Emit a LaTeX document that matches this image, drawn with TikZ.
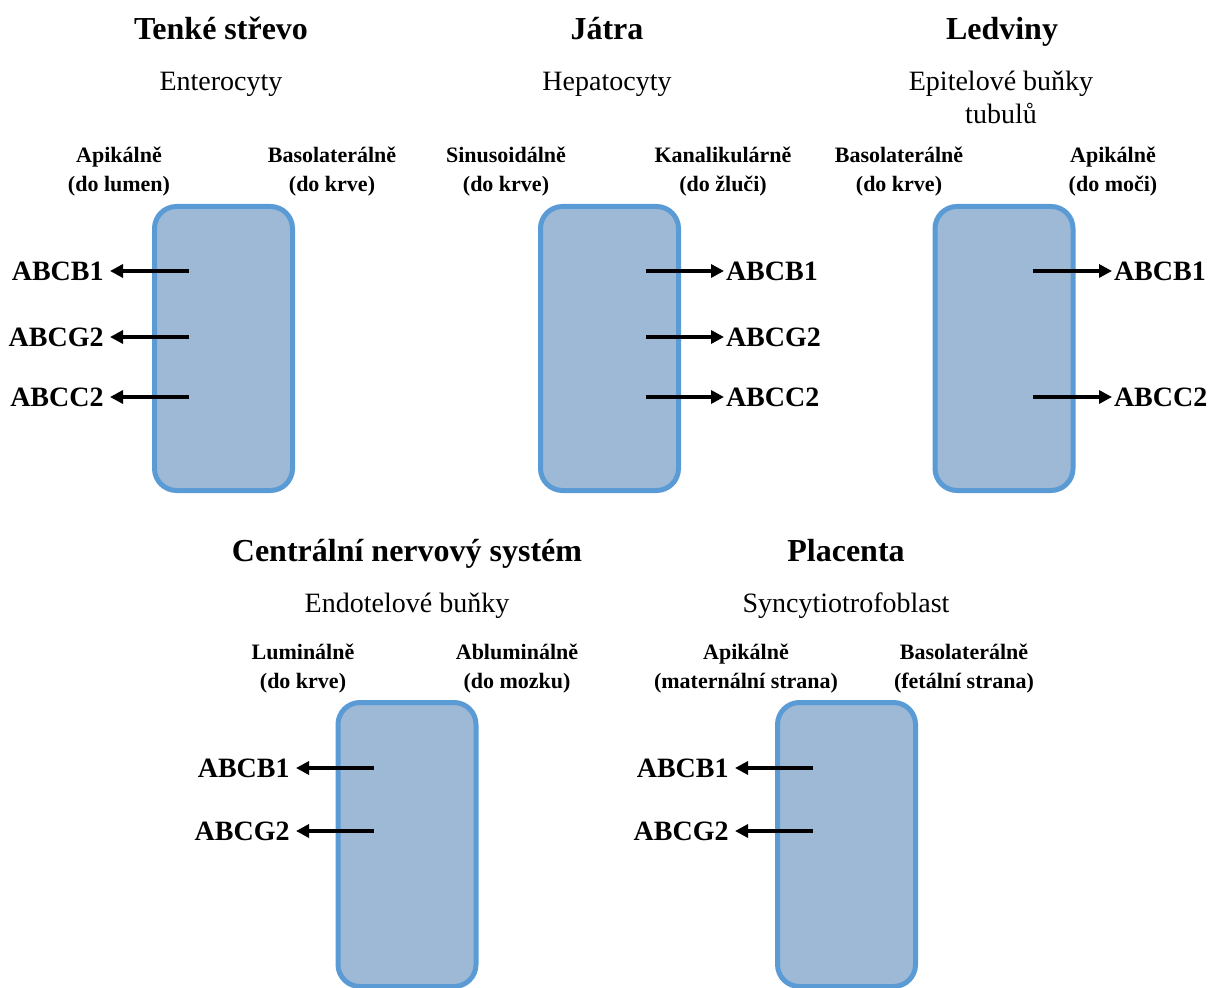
\documentclass[tikz,border=0pt]{standalone}
\usepackage{fontspec}
\setmainfont{Liberation Serif}
\usetikzlibrary{arrows.meta}
\definecolor{cellFill}{RGB}{157, 185, 214}
\definecolor{cellBorder}{RGB}{91, 155, 213}

\begin{document}
\begin{tikzpicture}[x=0.5pt, y=-0.5pt,
    cell/.style={draw=cellBorder, fill=cellFill, line width=2.5pt, rounded corners=11pt,
      minimum width=69pt, minimum height=142pt, inner sep=0pt},
    organTitle/.style={anchor=base, font=\bfseries\fontsize{16}{19}\selectfont},
    cellTitle/.style={anchor=base, align=center, font=\fontsize{14}{16.5}\selectfont},
    sideLabel/.style={anchor=base, align=center, font=\bfseries\fontsize{11}{14.5}\selectfont},
    gene/.style={font=\bfseries\fontsize{14}{16}\selectfont, inner sep=0.8pt},
    geneLeft/.style={gene, anchor=east, inner xsep=3pt},
    geneRight/.style={gene, anchor=west},
    efflux/.style={line width=2pt, -{Triangle[length=6.5pt, width=6.5pt]}}]
  \useasboundingbox (0,0) rectangle (1208,988);

  \node[cell] (strevo) at (223.5,348.5) {};
  \node[cell] (jatra) at (609.5,348.5) {};
  \node[cell] (ledviny) at (1004,348.5) {};
  \node[cell] (cns) at (407,844.5) {};
  \node[cell] (placenta) at (846.5,844.5) {};

  \node[organTitle] (tStrevo) at (221,40) {Tenké střevo};
  \node[organTitle] (tJatra) at (607,40) {Játra};
  \node[organTitle] (tLedviny) at (1002,40) {Ledviny};
  \node[organTitle] (tCns) at (407,561) {Centrální nervový systém};
  \node[organTitle] (tPlacenta) at (846,561) {Placenta};

  \node[cellTitle] (cStrevo) at (221,91) {Enterocyty};
  \node[cellTitle] (cJatra) at (607,91) {Hepatocyty};
  \node[cellTitle] (cLedviny) at (1001,124) {Epitelové buňky\\tubulů};
  \node[cellTitle] (cCns) at (407,612) {Endotelové buňky};
  \node[cellTitle] (cPlacenta) at (846,612) {Syncytiotrofoblast};

  \node[sideLabel] (lStrevo) at (119,192) {Apikálně\\(do lumen)};
  \node[sideLabel] (rStrevo) at (332,192) {Basolaterálně\\(do krve)};
  \node[sideLabel] (lJatra) at (506,192) {Sinusoidálně\\(do krve)};
  \node[sideLabel] (rJatra) at (723,192) {Kanalikulárně\\(do žluči)};
  \node[sideLabel] (lLedviny) at (899,192) {Basolaterálně\\(do krve)};
  \node[sideLabel] (rLedviny) at (1113,192) {Apikálně\\(do moči)};
  \node[sideLabel] (lCns) at (303,688) {Luminálně\\(do krve)};
  \node[sideLabel] (rCns) at (517,688) {Abluminálně\\(do mozku)};
  \node[sideLabel] (lPlacenta) at (746,688) {Apikálně\\(maternální strana)};
  \node[sideLabel] (rPlacenta) at (964,688) {Basolaterálně\\(fetální strana)};

  \coordinate (sB1) at (189,271);
  \coordinate (sG2) at (189,337);
  \coordinate (sC2) at (189,397);
  \node[geneLeft] (gsB1) at (110,271) {ABCB1};
  \node[geneLeft] (gsG2) at (110,337) {ABCG2};
  \node[geneLeft] (gsC2) at (110,397) {ABCC2};
  \draw[efflux] (sB1) -- (gsB1);
  \draw[efflux] (sG2) -- (gsG2);
  \draw[efflux] (sC2) -- (gsC2);

  \coordinate (jB1) at (646,271);
  \coordinate (jG2) at (646,337);
  \coordinate (jC2) at (646,397);
  \node[geneRight] (gjB1) at (724,271) {ABCB1};
  \node[geneRight] (gjG2) at (724,337) {ABCG2};
  \node[geneRight] (gjC2) at (724,397) {ABCC2};
  \draw[efflux] (jB1) -- (gjB1);
  \draw[efflux] (jG2) -- (gjG2);
  \draw[efflux] (jC2) -- (gjC2);

  \coordinate (lB1) at (1033,271);
  \coordinate (lC2) at (1033,397);
  \node[geneRight] (glB1) at (1112,271) {ABCB1};
  \node[geneRight] (glC2) at (1112,397) {ABCC2};
  \draw[efflux] (lB1) -- (glB1);
  \draw[efflux] (lC2) -- (glC2);

  \coordinate (nB1) at (374,768);
  \coordinate (nG2) at (374,831);
  \node[geneLeft] (gnB1) at (296,768) {ABCB1};
  \node[geneLeft] (gnG2) at (296,831) {ABCG2};
  \draw[efflux] (nB1) -- (gnB1);
  \draw[efflux] (nG2) -- (gnG2);

  \coordinate (pB1) at (813,768);
  \coordinate (pG2) at (813,831);
  \node[geneLeft] (gpB1) at (735,768) {ABCB1};
  \node[geneLeft] (gpG2) at (735,831) {ABCG2};
  \draw[efflux] (pB1) -- (gpB1);
  \draw[efflux] (pG2) -- (gpG2);
\end{tikzpicture}
\end{document}
